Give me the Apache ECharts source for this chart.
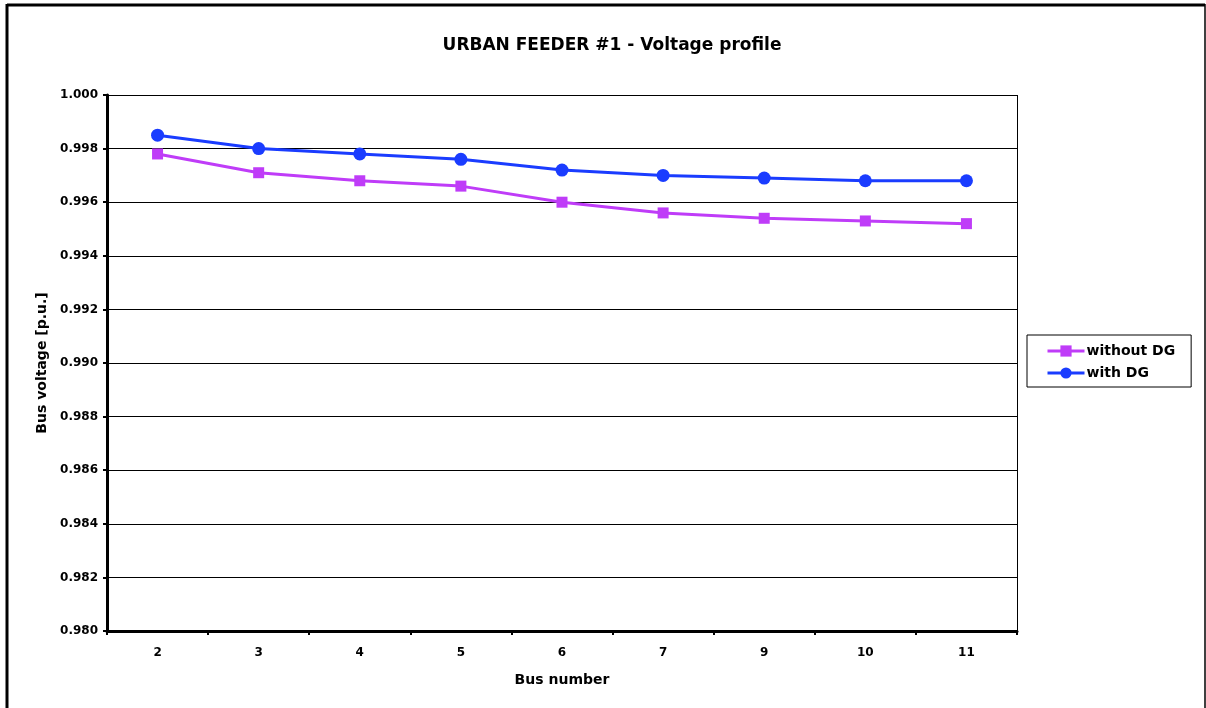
<!DOCTYPE html>
<html>
<head>
<meta charset="utf-8">
<script src="https://cdn.jsdelivr.net/npm/echarts@6/dist/echarts.min.js"></script>
<style>
  html, body { margin: 0; padding: 0; background: #fff; }
  #chart { width: 1206px; height: 708px; }
</style>
</head>
<body>
<div id="chart"></div>
<script>
// Bus numbers along the feeder
const busNumbers = ['2', '3', '4', '5', '6', '7', '9', '10', '11'];
// Bus voltages in p.u.
const withoutDG = [0.9978, 0.9971, 0.9968, 0.9966, 0.9960, 0.9956, 0.9954, 0.9953, 0.9952];
const withDG = [0.9985, 0.9980, 0.9978, 0.9976, 0.9972, 0.9970, 0.9969, 0.9968, 0.9968];

const FONT = '"DejaVu Sans", sans-serif';
const chart = echarts.init(document.getElementById('chart'), null, { renderer: 'canvas' });

chart.setOption({
  animation: false,
  backgroundColor: '#ffffff',
  title: {
    text: 'URBAN FEEDER #1 - Voltage profile',
    left: 607, top: 32, textAlign: 'center',
    textStyle: { fontFamily: FONT, fontWeight: 'bold', fontSize: 17, color: '#000' }
  },
  grid: { left: 107, top: 95, width: 910, height: 536, containLabel: false },
  legend: {
    orient: 'vertical',
    left: 1027, top: 335,
    padding: [9, 16, 7, 19],
    itemGap: 8,
    itemWidth: 37, itemHeight: 14,
    borderColor: '#000', borderWidth: 1,
    backgroundColor: '#fff',
    lineStyle: { width: 3 },
    textStyle: { fontFamily: FONT, fontWeight: 'bold', fontSize: 14, color: '#000', padding: [0, 0, 0, -3] },
    data: ['without DG', 'with DG']
  },
  xAxis: {
    type: 'category',
    data: busNumbers,
    boundaryGap: true,
    name: 'Bus number',
    nameLocation: 'middle',
    nameGap: 42,
    nameTextStyle: { fontFamily: FONT, fontWeight: 'bold', fontSize: 14, color: '#000' },
    axisLine: { lineStyle: { color: '#000', width: 3 } },
    axisTick: { show: true, inside: false, length: 4, lineStyle: { color: '#000', width: 2 } },
    axisLabel: { fontFamily: FONT, fontWeight: 'bold', fontSize: 12, color: '#000', margin: 16 },
    splitLine: { show: false }
  },
  yAxis: {
    type: 'value',
    min: 0.980, max: 1.000, interval: 0.002,
    name: 'Bus voltage [p.u.]',
    nameLocation: 'middle',
    nameGap: 58,
    nameRotate: 90,
    nameTextStyle: { fontFamily: FONT, fontWeight: 'bold', fontSize: 14, color: '#000' },
    axisLine: { show: true, lineStyle: { color: '#000', width: 3 } },
    axisTick: { show: true, inside: false, length: 4, lineStyle: { color: '#000', width: 2 } },
    axisLabel: {
      fontFamily: FONT, fontWeight: 'bold', fontSize: 12, color: '#000', margin: 9,
      formatter: v => v.toFixed(3)
    },
    splitLine: { show: true, lineStyle: { color: '#000', width: 1 } }
  },
  series: [
    {
      name: 'without DG',
      type: 'line',
      data: withoutDG,
      symbol: 'rect',
      symbolSize: 11,
      color: '#bf3cf8',
      lineStyle: { color: '#bf3cf8', width: 3 },
      itemStyle: { color: '#bf3cf8' },
      z: 3
    },
    {
      name: 'with DG',
      type: 'line',
      data: withDG,
      symbol: 'circle',
      symbolSize: 13,
      color: '#1a3cff',
      lineStyle: { color: '#1a3cff', width: 3 },
      itemStyle: { color: '#1a3cff' },
      z: 4
    }
  ],
  graphic: [
    // plot area right edge
    { type: 'line', shape: { x1: 1017.5, y1: 95, x2: 1017.5, y2: 631 }, style: { stroke: '#000', lineWidth: 1 } },
    // outer chart frame
    { type: 'line', shape: { x1: 7, y1: 5, x2: 1205, y2: 5 }, style: { stroke: '#000', lineWidth: 3 } },
    { type: 'line', shape: { x1: 7, y1: 4, x2: 7, y2: 708 }, style: { stroke: '#000', lineWidth: 3 } },
    { type: 'line', shape: { x1: 1205, y1: 4, x2: 1205, y2: 708 }, style: { stroke: '#000', lineWidth: 1.5 } }
  ]
});
</script>
</body>
</html>
